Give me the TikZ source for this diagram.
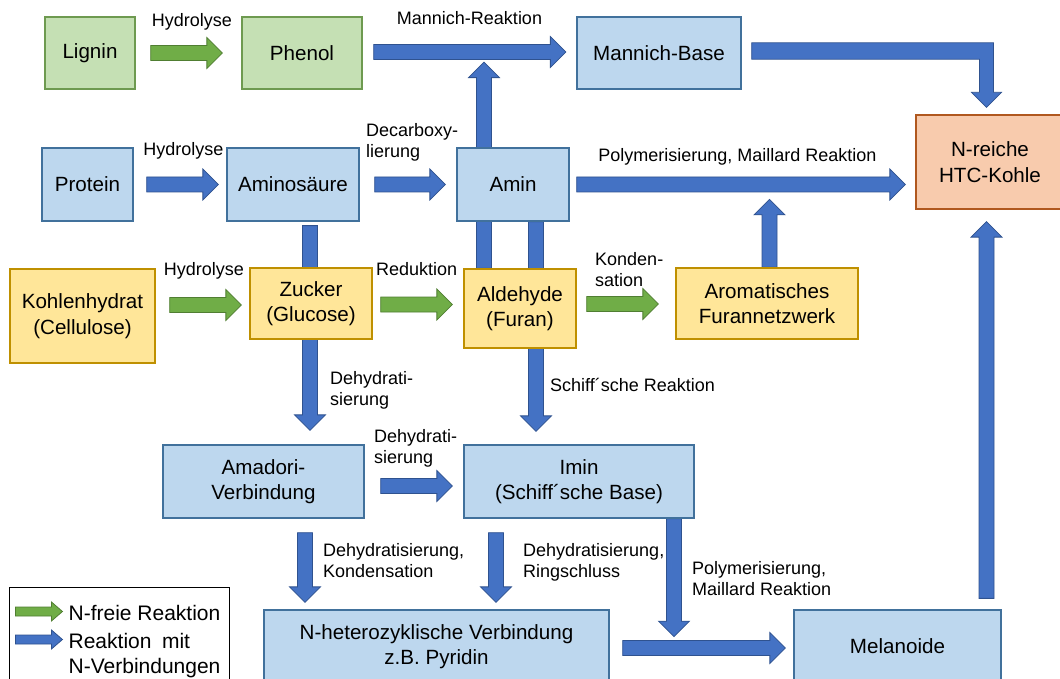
\documentclass[tikz,border=0pt]{standalone}
\usepackage{fontspec}
\setmainfont{Liberation Sans}
\usetikzlibrary{calc}
\pgfdeclarelayer{bg}
\pgfsetlayers{bg,main}
\definecolor{gfill}{HTML}{C5E0B4}
\definecolor{gline}{HTML}{6E9A50}
\definecolor{bfill}{HTML}{BDD7EE}
\definecolor{bline}{HTML}{41719C}
\definecolor{yfill}{HTML}{FFE699}
\definecolor{yline}{HTML}{BF9000}
\definecolor{ofill}{HTML}{F8CBAD}
\definecolor{oline}{HTML}{B0581F}
\definecolor{afill}{HTML}{4472C4}
\definecolor{aline}{HTML}{2F528F}
\definecolor{gafill}{HTML}{70AD47}
\definecolor{galine}{HTML}{507E32}
% block arrow: style, from, to, half shaft width, half head width, head length
\newcommand\barrow[6]{%
 \filldraw[#1] let \p1=#2, \p2=#3, \n1={atan2(\y2-\y1,\x2-\x1)} in
  ($(\p1)+({\n1+90}:#4)$) --
  ($(\p2)+({\n1+180}:#6)+({\n1+90}:#4)$) --
  ($(\p2)+({\n1+180}:#6)+({\n1+90}:#5)$) --
  (\p2) --
  ($(\p2)+({\n1+180}:#6)+({\n1-90}:#5)$) --
  ($(\p2)+({\n1+180}:#6)+({\n1-90}:#4)$) --
  ($(\p1)+({\n1-90}:#4)$) -- cycle;}
\newcommand\marrow[3]{\barrow{#1}{#2}{#3}{7.5pt}{15.5pt}{15.5pt}}
\tikzset{
 boxbase/.style={line width=1.3pt, inner sep=0pt, align=center, font=\fontsize{20.6}{25.5}\selectfont},
 greenbox/.style={boxbase, fill=gfill, draw=gline},
 bluebox/.style={boxbase, fill=bfill, draw=bline},
 yellowbox/.style={boxbase, fill=yfill, draw=yline},
 orangebox/.style={boxbase, fill=ofill, draw=oline},
 lbl/.style={inner sep=0pt, font=\fontsize{18}{21}\selectfont, align=left},
 legtext/.style={inner sep=0pt, font=\fontsize{21}{24}\selectfont, anchor=west},
 bluearrow/.style={fill=afill, draw=aline, line width=0.8pt},
 greenarrow/.style={fill=gafill, draw=galine, line width=0.8pt},
}
\begin{document}
\begin{tikzpicture}[x=1pt,y=-1pt]
\useasboundingbox (0,0) rectangle (1060,679);
% boxes
\node[greenbox, minimum width=90pt, minimum height=72pt] (lignin) at (90,53) {Lignin};
\node[greenbox, minimum width=120pt, minimum height=72pt] (phenol) at (302,53) {Phenol};
\node[bluebox, minimum width=164pt, minimum height=72pt] (mannich) at (659,53) {Mannich-Base};
\node[orangebox, minimum width=148pt, minimum height=94pt] (htc) at (990,162) {N-reiche\\HTC-Kohle};
\node[bluebox, minimum width=91pt, minimum height=73pt] (protein) at (87.5,184.5) {Protein};
\node[bluebox, minimum width=132pt, minimum height=73pt] (amino) at (293,184.5) {Aminosäure};
\node[bluebox, minimum width=112pt, minimum height=73pt] (amin) at (513,184.5) {Amin};
\node[yellowbox, minimum width=145pt, minimum height=94pt] (kohlen) at (82.5,316) {Kohlenhydrat\\(Cellulose)};
\node[yellowbox, minimum width=122pt, minimum height=71pt] (zucker) at (311,303.5) {Zucker\\(Glucose)};
\node[yellowbox, minimum width=112pt, minimum height=79pt] (aldehyde) at (520,308.5) {Aldehyde\\(Furan)};
\node[yellowbox, minimum width=182pt, minimum height=71pt] (furan) at (767,303.5) {Aromatisches\\Furannetzwerk};
\node[bluebox, minimum width=201pt, minimum height=73pt] (amadori) at (263.5,481.5) {Amadori-\\Verbindung};
\node[bluebox, minimum width=230pt, minimum height=73pt] (imin) at (579,481.5) {Imin\\(Schiff´sche Base)};
\node[bluebox, minimum width=345pt, minimum height=73pt] (nhet) at (436.5,646.5) {N-heterozyklische Verbindung\\z.B. Pyridin};
\node[bluebox, minimum width=207pt, minimum height=73pt] (melanoide) at (897.5,646.5) {Melanoide};
% labels
\node[lbl, anchor=base] (l1) at (192,26.7) {Hydrolyse};
\node[lbl, anchor=base] (l2) at (469.5,25) {Mannich-Reaktion};
\node[lbl, anchor=base] (l3) at (183.5,156) {Hydrolyse};
\node[lbl, anchor=west] (l4) at (366,142) {Decarboxy-\\lierung};
\node[lbl, anchor=base] (l5) at (737.5,161.7) {Polymerisierung, Maillard Reaktion};
\node[lbl, anchor=base] (l6) at (204,275) {Hydrolyse};
\node[lbl, anchor=base] (l7) at (416.7,275) {Reduktion};
\node[lbl, anchor=west] (l8) at (595,269.5) {Konden-\\sation};
\node[lbl, anchor=west] (l9) at (330,390) {Dehydrati-\\sierung};
\node[lbl, anchor=base west] (l10) at (550,391.7) {Schiff´sche Reaktion};
\node[lbl, anchor=west] (l11) at (374,448) {Dehydrati-\\sierung};
\node[lbl, anchor=west] (l12) at (323,561) {Dehydratisierung,\\Kondensation};
\node[lbl, anchor=west] (l13) at (523,562.7) {Dehydratisierung,\\Ringschluss};
\node[lbl, anchor=west] (l14) at (692,579) {Polymerisierung,\\Maillard Reaktion};
% legend
\node[draw=black, line width=1pt, minimum width=220.5pt, minimum height=100pt, inner sep=0pt] (legend) at (119.5,637.5) {};
\node[legtext] (lg1) at ($(legend.north west)+(59.7,25.5)$) {N-freie Reaktion};
\node[legtext] (lg2) at ($(legend.north west)+(59.7,54.2)$) {Reaktion\enspace mit};
\node[legtext] (lg3) at ($(legend.north west)+(59.7,81.5)$) {N-Verbindungen};
\barrow{greenarrow}{($(legend.north west)+(6.7,24.5)$)}{($(legend.north west)+(53.7,24.5)$)}{4.5pt}{9.5pt}{11pt}
\barrow{bluearrow}{($(legend.north west)+(6.7,52.5)$)}{($(legend.north west)+(53.7,52.5)$)}{4.5pt}{9.5pt}{11pt}
% arrows
\begin{pgfonlayer}{bg}
\fill[white] (0,0) rectangle (1060,679);
\marrow{greenarrow}{($(lignin.east)+(15,0)$)}{($(phenol.west)+(-19,0)$)}
\marrow{bluearrow}{($(phenol.east)+(11,-1)$)}{($(mannich.west)+(-10.5,-1)$)}
\filldraw[bluearrow] let \p1=($(mannich.east)+(10,-2)$), \p2=($(htc.north)+(-3.5,-7)$) in
 (\x1,{\y1+8.2pt}) -- ({\x2+7pt},{\y1+8.2pt}) -- ({\x2+7pt},{\y2+15pt}) -- ({\x2+15pt},{\y2+15pt}) -- (\p2) -- ({\x2-15pt},{\y2+15pt}) -- ({\x2-7pt},{\y2+15pt}) -- ({\x2-7pt},{\y1-8.2pt}) -- (\x1,{\y1-8.2pt}) -- cycle;
\marrow{bluearrow}{($(protein.east)+(13,0)$)}{($(amino.west)+(-8,0)$)}
\marrow{bluearrow}{($(amino.east)+(15,0)$)}{($(amin.west)+(-11,0)$)}
\marrow{bluearrow}{($(amin.east)+(7,0)$)}{($(htc.west |- amin.east)+(-10,0)$)}
\marrow{greenarrow}{($(kohlen.east |- zucker.west)+(14,1.5)$)}{($(zucker.west)+(-8,1.5)$)}
\marrow{greenarrow}{($(zucker.east)+(8,1)$)}{($(aldehyde.west |- zucker.east)+(-11,1)$)}
\marrow{greenarrow}{($(aldehyde.east |- furan.west)+(10,0.5)$)}{($(furan.west)+(-17,0.5)$)}
\marrow{bluearrow}{($(amino.south)+(17,4)$)}{($(amino.south |- amadori.north)+(17,-14)$)}
\marrow{bluearrow}{($(amin.south)+(23,0)$)}{($(amin.south |- imin.north)+(23,-13)$)}
\marrow{bluearrow}{($(aldehyde.north)+(-36,0)$)}{($(aldehyde.north |- phenol.south)+(-36,-27.5)$)}
\marrow{bluearrow}{($(furan.north)+(2.5,0)$)}{($(furan.north)+(2.5,-68)$)}
\marrow{bluearrow}{($(amadori.east)+(16,4.5)$)}{($(imin.west)+(-11,4.5)$)}
\marrow{bluearrow}{($(amadori.south)+(41.5,14)$)}{($(amadori.south |- nhet.north)+(41.5,-7)$)}
\marrow{bluearrow}{($(imin.south)+(-83,14)$)}{($(imin.south |- nhet.north)+(-83,-7)$)}
\marrow{bluearrow}{($(imin.south)+(95,0)$)}{($(imin.south)+(95,118)$)}
\marrow{bluearrow}{($(nhet.east)+(13,1.5)$)}{($(melanoide.west)+(-8,1.5)$)}
\marrow{bluearrow}{($(htc.south |- melanoide.north)+(-3.5,-11)$)}{($(htc.south)+(-3.5,12)$)}
\end{pgfonlayer}
\end{tikzpicture}
\end{document}
